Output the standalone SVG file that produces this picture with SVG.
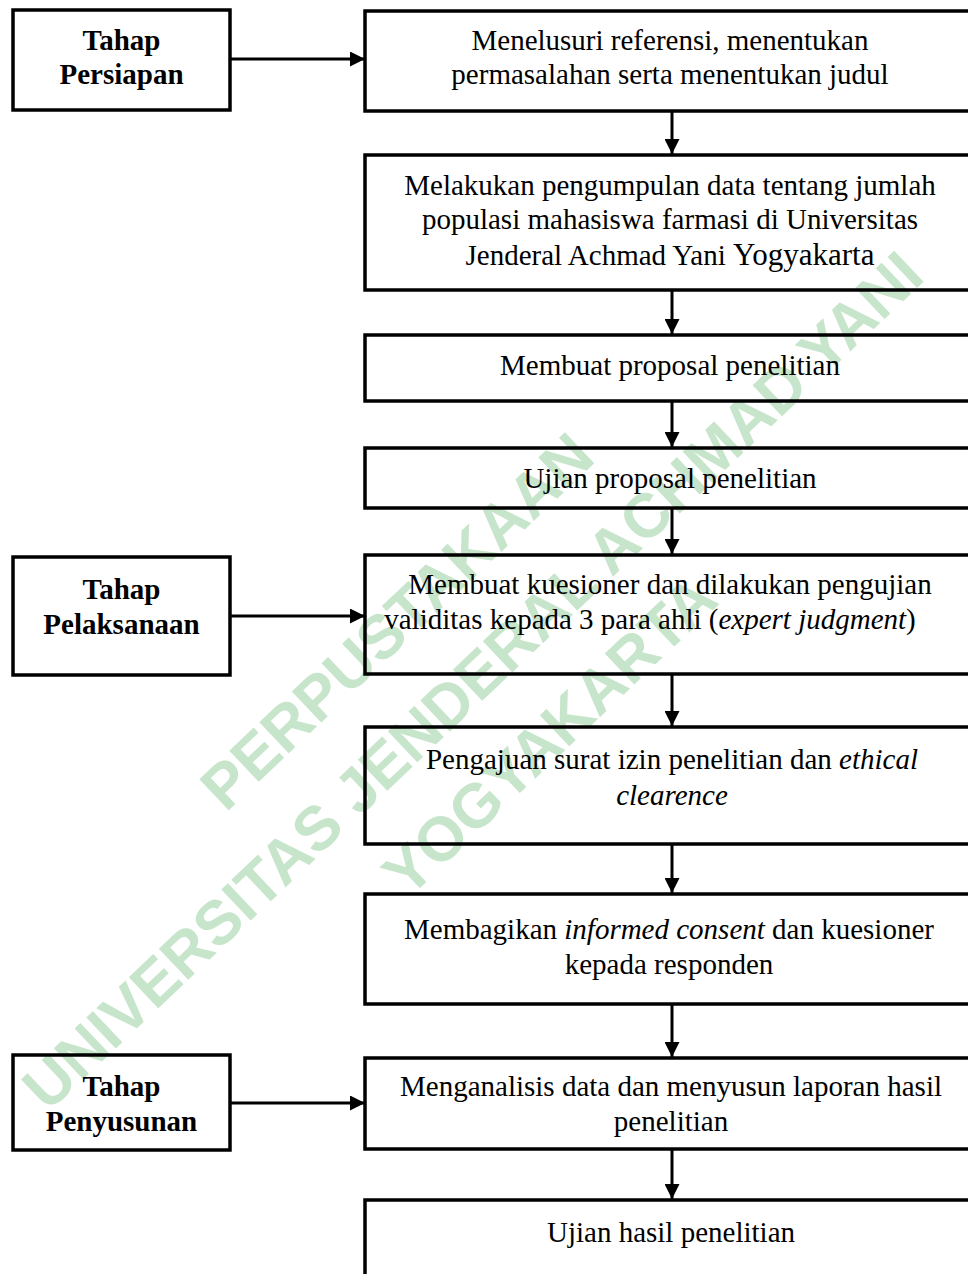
<svg xmlns="http://www.w3.org/2000/svg" width="968" height="1274" viewBox="0 0 968 1274">
<style>
.box{fill:none;stroke:#000;stroke-width:3.5}
.t{font-family:"Liberation Serif","Times New Roman",serif;font-size:29px;fill:#000;text-anchor:middle}
.b{font-weight:bold}
.i{font-style:italic}
.wm{font-family:"Liberation Sans",Arial,sans-serif;font-weight:bold;font-size:62px;fill:#c6e5ca;text-anchor:middle}
.ln{stroke:#000;stroke-width:3;fill:none}
</style>
<defs>
<marker id="ah" viewBox="0 0 10 10" refX="10" refY="5" markerWidth="5" markerHeight="5" markerUnits="strokeWidth" orient="auto">
<path d="M0,0 L10,5 L0,10 z" fill="#000"/>
</marker>
</defs>
<rect width="968" height="1274" fill="#fff"/>
<g id="watermark" transform="translate(472,680) rotate(-43.5)">
<text class="wm" x="-14" y="-73">PERPUSTAKAAN</text>
<text class="wm" x="0" y="22">UNIVERSITAS JENDERAL ACHMAD YANI</text>
<text class="wm" x="18" y="115" font-size="64">YOGYAKARTA</text>
</g>
<g id="connectors">
<line class="ln" x1="230" y1="59" x2="365" y2="59" marker-end="url(#ah)"/>
<line class="ln" x1="230" y1="616" x2="365" y2="616" marker-end="url(#ah)"/>
<line class="ln" x1="230" y1="1103" x2="365" y2="1103" marker-end="url(#ah)"/>
<line class="ln" x1="672" y1="111" x2="672" y2="154" marker-end="url(#ah)"/>
<line class="ln" x1="672" y1="290" x2="672" y2="334" marker-end="url(#ah)"/>
<line class="ln" x1="672" y1="401" x2="672" y2="447" marker-end="url(#ah)"/>
<line class="ln" x1="672" y1="508" x2="672" y2="554" marker-end="url(#ah)"/>
<line class="ln" x1="672" y1="674" x2="672" y2="726" marker-end="url(#ah)"/>
<line class="ln" x1="672" y1="844" x2="672" y2="893" marker-end="url(#ah)"/>
<line class="ln" x1="672" y1="1004" x2="672" y2="1057" marker-end="url(#ah)"/>
<line class="ln" x1="672" y1="1149" x2="672" y2="1199" marker-end="url(#ah)"/>
</g>
<g id="tahap-persiapan">
<rect class="box" x="13" y="10" width="217" height="100"/>
<text class="t b" x="121.5" y="50">Tahap</text>
<text class="t b" x="121.5" y="84">Persiapan</text>
</g>
<g id="tahap-pelaksanaan">
<rect class="box" x="13" y="557" width="217" height="118"/>
<text class="t b" x="121.5" y="599">Tahap</text>
<text class="t b" x="121.5" y="634">Pelaksanaan</text>
</g>
<g id="tahap-penyusunan">
<rect class="box" x="13" y="1055" width="217" height="95"/>
<text class="t b" x="121.5" y="1096">Tahap</text>
<text class="t b" x="121.5" y="1131">Penyusunan</text>
</g>
<g id="step1">
<rect class="box" x="365" y="11" width="612" height="100"/>
<text class="t" x="670" y="50">Menelusuri referensi, menentukan</text>
<text class="t" x="670" y="84">permasalahan serta menentukan judul</text>
</g>
<g id="step2">
<rect class="box" x="365" y="155" width="612" height="135"/>
<text class="t" x="670" y="195">Melakukan pengumpulan data tentang jumlah</text>
<text class="t" x="670" y="229">populasi mahasiswa farmasi di Universitas</text>
<text class="t" x="670" y="265">Jenderal Achmad Yani <tspan font-size="31">Yogyakarta</tspan></text>
</g>
<g id="step3">
<rect class="box" x="365" y="335" width="612" height="66"/>
<text class="t" x="670" y="375">Membuat proposal penelitian</text>
</g>
<g id="step4">
<rect class="box" x="365" y="448" width="612" height="60"/>
<text class="t" x="670" y="488">Ujian proposal penelitian</text>
</g>
<g id="step5">
<rect class="box" x="365" y="555" width="612" height="119"/>
<text class="t" x="670" y="594">Membuat kuesioner dan dilakukan pengujian</text>
<text class="t" x="650" y="629">validitas kepada 3 para ahli (<tspan class="i">expert judgment</tspan>)</text>
</g>
<g id="step6">
<rect class="box" x="365" y="727" width="612" height="117"/>
<text class="t" x="672" y="769">Pengajuan surat izin penelitian dan <tspan class="i">ethical</tspan></text>
<text class="t i" x="672" y="805">clearence</text>
</g>
<g id="step7">
<rect class="box" x="365" y="894" width="612" height="110"/>
<text class="t" x="669" y="939">Membagikan <tspan class="i">informed consent</tspan> dan kuesioner</text>
<text class="t" x="669" y="974">kepada responden</text>
</g>
<g id="step8">
<rect class="box" x="365" y="1058" width="612" height="91"/>
<text class="t" x="671" y="1096">Menganalisis data dan menyusun laporan hasil</text>
<text class="t" x="671" y="1131">penelitian</text>
</g>
<g id="step9">
<rect class="box" x="365" y="1200" width="612" height="100"/>
<text class="t" x="671" y="1242">Ujian hasil penelitian</text>
</g>
</svg>
